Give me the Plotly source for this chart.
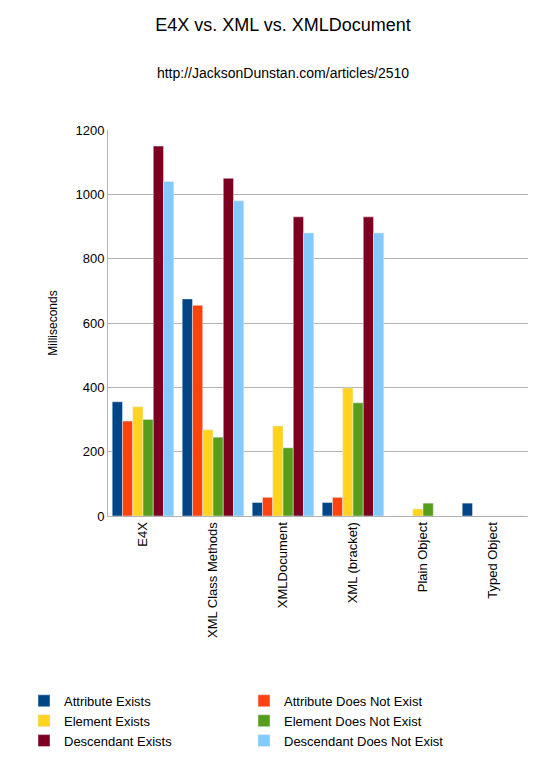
import plotly.graph_objects as go

categories = ["E4X", "XML Class Methods", "XMLDocument", "XML (bracket)", "Plain Object", "Typed Object"]
series_names = ["Attribute Exists", "Attribute Does Not Exist", "Element Exists",
                "Element Does Not Exist", "Descendant Exists", "Descendant Does Not Exist"]
attr_exists = [355, 675, 42, 42, 0, 40]
attr_not = [295, 655, 58, 58, 0, 0]
elem_exists = [340, 268, 280, 398, 22, 0]
elem_not = [300, 245, 212, 352, 40, 0]
desc_exists = [1150, 1050, 930, 930, 0, 0]
desc_not = [1040, 980, 880, 880, 0, 0]
colors = ["#004586", "#ff420e", "#ffd320", "#579d1c", "#7e0021", "#83caff"]

fig = go.Figure()
for name, vals, c in zip(series_names,
                         [attr_exists, attr_not, elem_exists, elem_not, desc_exists, desc_not],
                         colors):
    fig.add_trace(go.Bar(x=categories, y=vals, name=name, marker=dict(color=c)))

fig.update_layout(
    width=550, height=770,
    paper_bgcolor="white", plot_bgcolor="white",
    font=dict(family="Liberation Sans, Arial", size=13, color="black"),
    title=dict(text="E4X vs. XML vs. XMLDocument<br><span style='font-size:14px'><br>http://JacksonDunstan.com/articles/2510</span>",
               x=0.5, y=0.97, yanchor="top", font=dict(size=18)),
    margin=dict(l=100, r=30, t=122, b=262),
    barmode="group", bargap=0.12, bargroupgap=0.0,
    showlegend=True,
    legend=dict(orientation="h", x=-0.2, y=-0.44, xanchor="left", yanchor="top",
                entrywidth=175, entrywidthmode="pixels", font=dict(size=13),
                itemwidth=30, tracegroupgap=0, traceorder="normal"),
)
fig.update_yaxes(range=[0, 1200], dtick=200, showgrid=True, gridcolor="#b3b3b3",
                 showline=True, linecolor="#b3b3b3", title=dict(text="Milliseconds", font=dict(size=12)),
                 tickfont=dict(size=13))
fig.update_xaxes(tickangle=-90, showline=True, linecolor="#b3b3b3", tickfont=dict(size=13))

fig.write_html("out.html")
